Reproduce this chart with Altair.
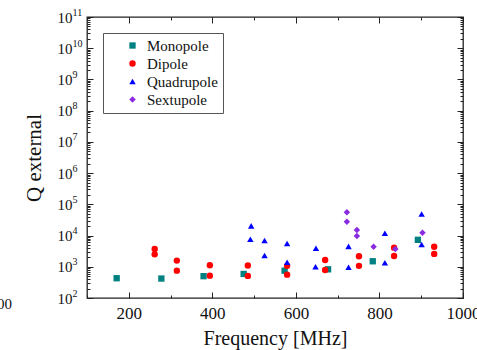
import altair as alt
import pandas as pd

mono_x = [171, 278, 379, 475, 573, 677, 784, 892]
mono_q = [430, 420, 500, 590, 750, 830, 1500, 7300]
dip_x = [262, 262, 315, 315, 394, 394, 485, 485, 579, 579, 670, 670, 751, 751, 835, 835, 931, 931]
dip_q = [3700, 2500, 1580, 750, 1120, 520, 1100, 510, 1070, 560, 1650, 790, 2180, 1070, 4100, 2220, 4400, 2580]
quad_x = [493, 491, 525, 525, 579, 579, 648, 647, 726, 726, 813, 813, 901, 901]
quad_q = [20400, 7600, 6900, 2300, 5600, 1390, 3900, 1000, 4500, 960, 11800, 1350, 49000, 5200]
sext_x = [722, 722, 746, 746, 786, 838, 903]
sext_q = [56000, 27500, 15000, 9600, 4400, 3700, 12300]

types = ["Monopole", "Dipole", "Quadrupole", "Sextupole"]
colors = ["#008080", "#ff0000", "#0000ff", "#8a2be2"]
shapes = ["square", "circle", "triangle-up", "diamond"]
sizes = [40, 42, 62, 55]

x_major = [200, 400, 600, 800, 1000]
x_minor = [100, 200, 300, 400, 500, 600, 700, 800, 900, 1000]
y_major = [10.0 ** k for k in range(2, 12)]
y_minor = [m * 10.0 ** k for k in range(2, 11) for m in range(2, 10)]

rows = []
for name, xs_, qs_ in [("Monopole", mono_x, mono_q), ("Dipole", dip_x, dip_q),
                       ("Quadrupole", quad_x, quad_q), ("Sextupole", sext_x, sext_q)]:
    for a, b in zip(xs_, qs_):
        rows.append({"f": a, "q": b, "type": name, "o": types.index(name)})
df = pd.DataFrame(rows)

FONT = "Liberation Serif"
xs = alt.Scale(domain=[100, 1000], nice=False)
ys = alt.Scale(type="log", domain=[1e2, 1e11], nice=False)

def tick_axis(orient, values, size):
    return alt.Axis(orient=orient, values=values, tickSize=size, offset=-size, labels=False,
                    domain=False, grid=False, title=None, tickColor="#222", tickWidth=1)

points = alt.Chart(df).mark_point(filled=True, opacity=1).encode(
    x=alt.X("f:Q", scale=xs, axis=alt.Axis(orient="bottom", values=x_major, tickSize=6, offset=-6,
            domain=False, grid=False, labelFont=FONT, labelFontSize=17, labelColor="#111",
            labelPadding=7, labelFlush=False, labelOverlap=False, format="d", tickColor="#222",
            title="Frequency [MHz]", titleFont=FONT, titleFontSize=20, titleFontWeight="normal",
            titleColor="#111", titlePadding=7)),
    y=alt.Y("q:Q", scale=ys, axis=alt.Axis(orient="left", values=y_major, tickSize=6, offset=-6,
            domain=False, grid=False, labelFont=FONT, labelFontSize=15, labelColor="#111",
            labelPadding=15, labelExpr="'10'", labelOverlap=False, tickColor="#222",
            title="Q external", titleFont=FONT, titleFontSize=21, titleFontWeight="normal",
            titleColor="#111", titlePadding=13)),
    color=alt.Color("type:N", scale=alt.Scale(domain=types, range=colors),
                    legend=alt.Legend(title=None, orient="none", legendX=16, legendY=16,
                                      strokeColor="#555", padding=5, symbolOffset=17,
                                      labelOffset=7, labelFont=FONT, labelFontSize=15,
                                      labelColor="#111", symbolSize=28, rowPadding=2,
                                      fillColor="white")),
    shape=alt.Shape("type:N", scale=alt.Scale(domain=types, range=shapes)),
    size=alt.Size("type:N", scale=alt.Scale(domain=types, range=sizes), legend=None),
    order=alt.Order("o:Q"),
)

def ghost(xa, ya):
    return alt.Chart(df).mark_point(opacity=0).encode(
        x=alt.X("f:Q", scale=xs, axis=xa),
        y=alt.Y("q:Q", scale=ys, axis=ya),
    )

l2 = ghost(tick_axis("bottom", x_minor, 3), tick_axis("left", y_minor, 3))
l3 = ghost(tick_axis("top", x_major, 6), tick_axis("right", y_major, 6))
l4 = ghost(tick_axis("top", x_minor, 3), tick_axis("right", y_minor, 3))
exp_axis = alt.Axis(orient="left", values=y_major, ticks=False, domain=False, grid=False,
                    title=None, labelFont=FONT, labelFontSize=10, labelColor="#111",
                    labelAlign="left", labelBaseline="bottom", labelPadding=15,
                    labelOverlap=False,
                    labelExpr="format(round(log(datum.value)/LN10), 'd')")
l5 = alt.Chart(df).mark_point(opacity=0).encode(
    x=alt.X("f:Q", scale=xs, axis=None),
    y=alt.Y("q:Q", scale=ys, axis=exp_axis),
)

frag = alt.Chart(pd.DataFrame({"t": ["00"]})).mark_text(
    font=FONT, fontSize=15, align="right", baseline="middle", color="#111"
).encode(x=alt.value(-75), y=alt.value(287), text="t:N")

chart = alt.layer(points, l2, l3, l4, l5, frag).resolve_axis(
    x="independent", y="independent"
).properties(
    width=376, height=281,
    autosize=alt.AutoSizeParams(type="none"),
    padding={"left": 87, "top": 17, "right": 14, "bottom": 52},
).configure_view(stroke="#222", strokeWidth=1.3)

chart.save("out.html", embed_options={"renderer": "svg", "actions": False})
